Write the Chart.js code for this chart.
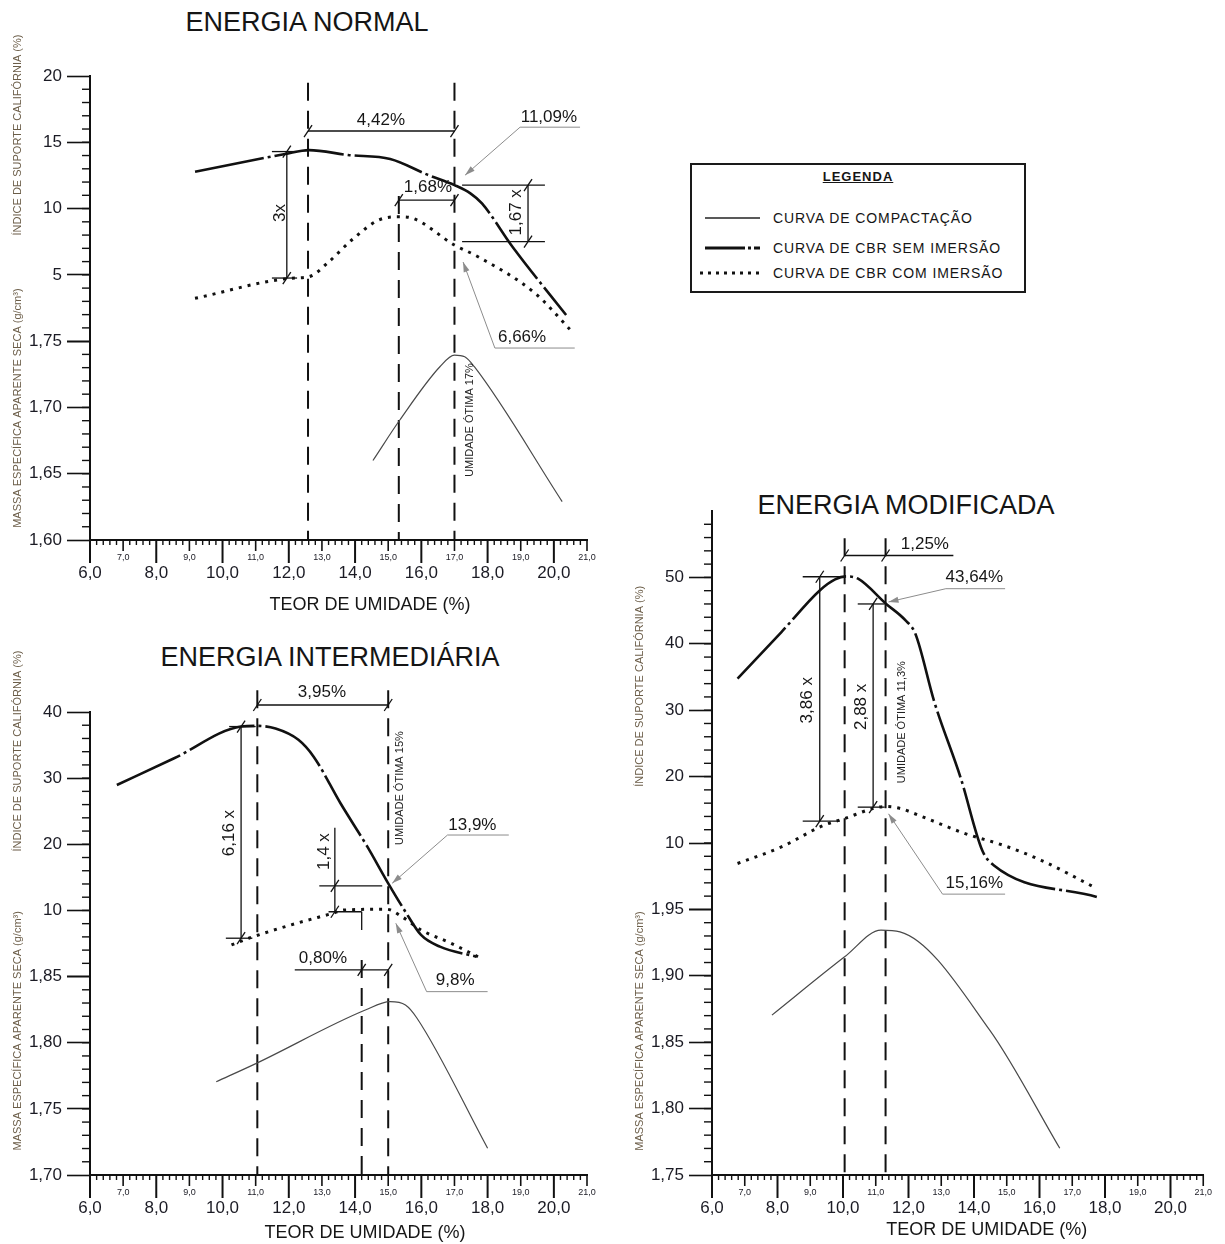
<!DOCTYPE html>
<html lang="pt-BR">
<head>
<meta charset="utf-8">
<title>Curvas de compactação e CBR</title>
<script src="https://cdn.jsdelivr.net/npm/chart.js@4.4.1/dist/chart.umd.min.js"></script>
<style>
  body { margin: 0; background: #fff; }
  #wrapper { position: relative; width: 1225px; height: 1244px; overflow: hidden;
    font-family: "Liberation Sans", Arial, Helvetica, sans-serif; color: #151515; }
  #wrapper canvas { position: absolute; }
  .titulo { position: absolute; font-size: 27px; line-height: 27px; white-space: nowrap; transform: translateX(-50%); }
  #legenda { position: absolute; left: 690px; top: 163px; width: 332px; height: 126px; border: 2px solid #1a1a1a; }
  #legenda .cab { position: absolute; left: 0; right: 0; top: 5px; text-align: center; font-size: 13px; line-height: 14px;
    font-weight: bold; letter-spacing: 1px; text-decoration: underline; }
  #legenda .item { position: absolute; left: 81px; font-size: 14px; line-height: 14px; letter-spacing: 0.9px; white-space: nowrap; }
  #legenda svg { position: absolute; left: 0; top: 0; }
</style>
</head>
<body>
<div id="wrapper">
  <div class="titulo" style="left:307px; top:9px">ENERGIA NORMAL</div>
  <div class="titulo" style="left:330px; top:644px">ENERGIA INTERMEDIÁRIA</div>
  <div class="titulo" style="left:906px; top:492px">ENERGIA MODIFICADA</div>
  <div id="legenda"></div>
  <canvas id="normal" width="612" height="625" style="left:0; top:0"></canvas>
  <canvas id="intermediaria" width="612" height="614" style="left:0; top:630px"></canvas>
  <canvas id="modificada" width="603" height="774" style="left:622px; top:470px"></canvas>
</div>
<script>
const FONTE = '"Liberation Sans", Arial, Helvetica, sans-serif';
const LEGENDA = ["CURVA DE COMPACTAÇÃO", "CURVA DE CBR SEM IMERSÃO", "CURVA DE CBR COM IMERSÃO"];
const TITULO_X = "TEOR DE UMIDADE (%)";
const TITULO_CBR = "ÍNDICE DE SUPORTE CALIFÓRNIA (%)";
const TITULO_DENS = "MASSA ESPECÍFICA APARENTE SECA (g/cm³)";

// ENERGIA NORMAL
const normCompX = [14.54, 15.35, 16.56, 17.0, 17.31, 17.6, 20.25];
const normCompY = [1.660, 1.6905, 1.7307, 1.7395, 1.7382, 1.7307, 1.629];
const normSemX = [9.17, 11.89, 12.61, 13.79, 15.06, 16.21, 17.0, 17.48, 17.83, 18.75, 20.37];
const normSemY = [12.78, 14.11, 14.41, 14.04, 13.74, 12.53, 11.77, 11.15, 10.39, 7.12, 1.97];
const normComX = [9.17, 12.06, 12.61, 13.21, 13.9, 14.71, 15.35, 15.75, 17.0, 17.71, 19.44, 20.48];
const normComY = [3.23, 4.74, 4.86, 5.99, 7.63, 9.13, 9.38, 9.26, 7.25, 6.37, 3.6, 0.9];

// ENERGIA INTERMEDIÁRIA
const interCompX = [9.81, 11.02, 14.31, 15.06, 15.52, 15.87, 18.0];
const interCompY = [1.7705, 1.7844, 1.8247, 1.831, 1.8285, 1.8185, 1.7202];
const interSemX = [6.81, 8.54, 10.56, 11.02, 11.6, 12.29, 12.75, 13.56, 14.37, 15.0, 15.52, 15.99, 16.56, 17.66];
const interSemY = [28.97, 33.0, 37.8, 37.9, 37.5, 35.8, 33.25, 26.2, 19.64, 14.1, 9.8, 6.29, 4.52, 3.01];
const interComX = [10.27, 10.79, 12.06, 13.33, 13.68, 14.95, 15.41, 15.99, 16.9, 17.71];
const interComY = [4.78, 5.79, 7.8, 9.57, 10.07, 10.18, 9.06, 7.05, 5.03, 3.0];

// ENERGIA MODIFICADA
const modCompX = [7.83, 10.05, 11.16, 11.74, 14.48, 16.62];
const modCompY = [1.8704, 1.9143, 1.9344, 1.9331, 1.8591, 1.7701];
const modSemX = [6.78, 8.12, 9.29, 9.76, 10.11, 10.46, 11.31, 11.91, 12.21, 12.79, 13.6, 14.25, 14.6, 17.75];
const modSemY = [34.75, 41.77, 48.04, 49.7, 50.15, 49.8, 46.04, 43.52, 41.52, 31.23, 19.7, 8.91, 6.65, 1.88];
const modComX = [6.78, 8.12, 9.41, 10.05, 10.92, 11.3, 11.75, 12.3, 13.73, 14.89, 16.05, 17.75];
const modComY = [6.91, 9.41, 12.67, 13.68, 15.2, 15.5, 15.2, 14.2, 11.42, 9.66, 7.4, 3.15];

// cotas e chamadas (em unidades dos eixos: umidade / CBR)
const notasNormal = {
  guias: { x: [12.58, 15.32, 17.0], topo: [19.5, 10.95, 19.5] },
  cotasH: [
    { t: "4,42%", y: 15.85, x1: 12.58, x2: 17.0, marcas: [12.58, 17.0], tx: 14.78, ty: 16.68 },
    { t: "1,68%", y: 10.64, x1: 15.32, x2: 17.0, marcas: [15.32, 17.0], tx: 16.2, ty: 11.62 }
  ],
  cotasV: [
    { t: "3x", x: 11.94, y1: 14.3, y2: 4.76, marcas: [14.3, 4.76], ext: [[14.3, 11.49, 12.25], [4.76, 11.49, 12.25]], tx: 11.74, ty: 9.66 },
    { t: "1,67 x", x: 19.22, y1: 11.77, y2: 7.5, marcas: [11.77, 7.5], ext: [[11.77, 17.23, 19.73], [7.5, 17.23, 19.73]], tx: 18.88, ty: 9.72 }
  ],
  chamadas: [
    { t: "11,09%", tx: 19.85, ty: 16.9, pts: [[20.79, 16.14], [18.98, 16.14], [17.32, 12.52]] },
    { t: "6,66%", tx: 19.04, ty: 0.31, pts: [[20.63, -0.52], [18.22, -0.52], [17.26, 5.97]] }
  ],
  verticais: [{ t: "UMIDADE ÓTIMA 17%", x: 17.47, y: -5.95 }],
  linhas: []
};
const notasInter = {
  guias: { x: [11.05, 14.2, 15.0], topo: [43.3, 2.5, 43.3] },
  cotasH: [
    { t: "3,95%", y: 41.06, x1: 11.05, x2: 15.0, marcas: [11.05, 15.0], tx: 13.0, ty: 43.0 },
    { t: "0,80%", y: 1.0, x1: 12.18, x2: 15.0, marcas: [14.2, 15.0], tx: 13.03, ty: 2.8 }
  ],
  cotasV: [
    { t: "6,16 x", x: 10.56, y1: 37.8, y2: 5.8, marcas: [37.8, 5.8], ext: [[37.8, 10.2, 11.0], [5.8, 10.1, 10.9]], tx: 10.21, ty: 21.7 },
    { t: "1,4 x", x: 13.39, y1: 22.5, y2: 9.8, marcas: [13.7, 9.8], ext: [[13.7, 12.92, 14.82], [9.8, 13.2, 14.2]], tx: 13.07, ty: 18.9 }
  ],
  chamadas: [
    { t: "13,9%", tx: 17.54, ty: 22.93, pts: [[18.64, 21.4], [16.79, 21.4], [15.12, 14.1]] },
    { t: "9,8%", tx: 17.02, ty: -0.51, pts: [[18.0, -2.28], [16.16, -2.28], [15.23, 8.06]] }
  ],
  verticais: [{ t: "UMIDADE ÓTIMA 15%", x: 15.35, y: 28.5 }],
  linhas: [[14.2, 9.8, 14.2, 7.05]]
};
const notasMod = {
  guias: { x: [10.05, 11.3], topo: [55.9, 55.9] },
  cotasH: [
    { t: "1,25%", y: 53.3, x1: 10.05, x2: 13.37, marcas: [10.05, 11.3], tx: 12.5, ty: 55.0 }
  ],
  cotasV: [
    { t: "3,86 x", x: 9.29, y1: 50.1, y2: 13.3, marcas: [50.1, 13.3], ext: [[50.1, 8.77, 9.99], [13.3, 8.77, 9.9]], tx: 8.91, ty: 31.5 },
    { t: "2,88 x", x: 10.92, y1: 46.0, y2: 15.4, marcas: [46.0, 15.4], ext: [[46.0, 10.45, 11.27], [15.4, 10.45, 11.27]], tx: 10.57, ty: 30.5 }
  ],
  chamadas: [
    { t: "43,64%", tx: 14.01, ty: 50.0, pts: [[14.95, 48.3], [13.14, 48.3], [11.39, 46.3]] },
    { t: "15,16%", tx: 14.01, ty: 3.9, pts: [[14.95, 2.3], [13.04, 2.3], [11.39, 14.4]] }
  ],
  verticais: [{ t: "UMIDADE ÓTIMA 11,3%", x: 11.79, y: 28.2 }],
  linhas: []
};

const ESTILOS = [
  { cor: "#4a4a4a", largura: 1.2, traco: [] },
  { cor: "#111", largura: 2.6, traco: [70, 4, 3, 4] },
  { cor: "#111", largura: 3, traco: [3, 6] }
];

function pares(xs, ys) {
  return xs.map(function (x, i) { return { x: x, y: ys[i] }; });
}
function fmtX(v) { return v.toFixed(1).replace(".", ","); }

function seg(ctx, x1, y1, x2, y2) {
  ctx.beginPath(); ctx.moveTo(x1, y1); ctx.lineTo(x2, y2); ctx.stroke();
}
function barra(ctx, x, y) {
  seg(ctx, x - 4, y + 6, x + 4, y - 6);
}
function texto(ctx, t, x, y, tam, cor, rot) {
  ctx.save();
  ctx.translate(x, y);
  if (rot) ctx.rotate(-Math.PI / 2);
  ctx.font = tam + "px " + FONTE;
  ctx.fillStyle = cor;
  ctx.textAlign = "center";
  ctx.textBaseline = "middle";
  ctx.fillText(t, 0, 0);
  ctx.restore();
}

function criarNotas(notas, passos, tit) {
  return {
    id: "notas",
    beforeDatasetsDraw(chart) {
      const ctx = chart.ctx, sx = chart.scales.x, sy = chart.scales.y, sd = chart.scales.d;
      const base = sd.getPixelForValue(sd.min);
      ctx.save();
      ctx.strokeStyle = "#111";
      ctx.lineWidth = 2;
      ctx.setLineDash([18, 10]);
      notas.guias.x.forEach(function (gx, i) {
        const px = sx.getPixelForValue(gx);
        seg(ctx, px, sy.getPixelForValue(notas.guias.topo[i]), px, base);
      });
      ctx.restore();
    },
    afterDraw(chart) {
      const ctx = chart.ctx, a = chart.chartArea;
      const sx = chart.scales.x, sy = chart.scales.y;
      const X = function (v) { return sx.getPixelForValue(v); };
      const Y = function (v) { return sy.getPixelForValue(v); };
      ctx.save();

      // traços menores dos eixos
      ctx.strokeStyle = "#111";
      ["y", "d"].forEach(function (id) {
        const s = chart.scales[id];
        const n = Math.round((s.max - s.min) / passos[id]);
        ctx.lineWidth = 1.4;
        for (let i = 1; i < n; i++) {
          const py = s.getPixelForValue(s.min + i * passos[id]);
          seg(ctx, a.left - 8, py, a.left, py);
        }
      });
      const nx = Math.round((sx.max - sx.min) / passos.x);
      for (let i = 0; i <= nx; i++) {
        const v = Math.round((sx.min + i * passos.x) * 100) / 100;
        let comp = 5;
        ctx.lineWidth = 1.4;
        if (Number.isInteger(v)) {
          comp = v % 2 === 0 ? 23 : 11;
          ctx.lineWidth = v % 2 === 0 ? 2 : 1.6;
        }
        const px = sx.getPixelForValue(v);
        seg(ctx, px, a.bottom, px, a.bottom + comp);
      }

      // cotas
      ctx.strokeStyle = "#111";
      ctx.lineWidth = 1.3;
      notas.cotasH.forEach(function (c) {
        seg(ctx, X(c.x1), Y(c.y), X(c.x2), Y(c.y));
        c.marcas.forEach(function (m) { barra(ctx, X(m), Y(c.y)); });
        texto(ctx, c.t, X(c.tx), Y(c.ty), 17, "#161616", false);
      });
      notas.cotasV.forEach(function (c) {
        seg(ctx, X(c.x), Y(c.y1), X(c.x), Y(c.y2));
        c.ext.forEach(function (e) { seg(ctx, X(e[1]), Y(e[0]), X(e[2]), Y(e[0])); });
        c.marcas.forEach(function (m) { barra(ctx, X(c.x), Y(m)); });
        texto(ctx, c.t, X(c.tx), Y(c.ty), 17, "#161616", true);
      });
      notas.linhas.forEach(function (l) { seg(ctx, X(l[0]), Y(l[1]), X(l[2]), Y(l[3])); });

      // chamadas com seta
      ctx.strokeStyle = "#8c8c8c";
      ctx.fillStyle = "#8c8c8c";
      ctx.lineWidth = 1;
      notas.chamadas.forEach(function (c) {
        ctx.beginPath();
        c.pts.forEach(function (p, i) {
          if (i === 0) ctx.moveTo(X(p[0]), Y(p[1]));
          else ctx.lineTo(X(p[0]), Y(p[1]));
        });
        ctx.stroke();
        const p0 = c.pts[c.pts.length - 2], p1 = c.pts[c.pts.length - 1];
        const bx = X(p1[0]), by = Y(p1[1]);
        const ang = Math.atan2(by - Y(p0[1]), bx - X(p0[0]));
        ctx.beginPath();
        ctx.moveTo(bx, by);
        ctx.lineTo(bx - 10 * Math.cos(ang) + 3 * Math.sin(ang), by - 10 * Math.sin(ang) - 3 * Math.cos(ang));
        ctx.lineTo(bx - 10 * Math.cos(ang) - 3 * Math.sin(ang), by - 10 * Math.sin(ang) + 3 * Math.cos(ang));
        ctx.closePath();
        ctx.fill();
        texto(ctx, c.t, X(c.tx), Y(c.ty), 17, "#161616", false);
      });
      notas.verticais.forEach(function (v) { texto(ctx, v.t, X(v.x), Y(v.y), 11, "#222", true); });

      // títulos dos eixos
      texto(ctx, TITULO_X, X(tit.x), a.bottom + tit.dy, 18, "#161616", false);
      texto(ctx, TITULO_CBR, a.left - 72, sy.getPixelForValue(tit.cbr), 11, "#6b5d48", true);
      texto(ctx, TITULO_DENS, a.left - 72, chart.scales.d.getPixelForValue(tit.dens), 11, "#6b5d48", true);
      ctx.restore();
    }
  };
}

function eixoX(altura) {
  return {
    type: "linear", min: 6, max: 21,
    border: { color: "#111", width: 2 },
    grid: { drawOnChartArea: false, drawTicks: false },
    ticks: {
      stepSize: 1, autoSkip: false, maxRotation: 0, padding: 13, color: "#1b1b24",
      font: function (c) {
        if (c.tick && c.tick.value % 2 !== 0) return { family: FONTE, size: 9, lineHeight: "10px" };
        return { family: FONTE, size: 17, lineHeight: 0.78 };
      },
      callback: function (v) { return v % 2 === 0 ? ["", fmtX(v)] : fmtX(v); }
    },
    afterFit: function (s) { s.height = altura; }
  };
}

// weight maior = colocado em cima na pilha da esquerda
function eixoCbr(max, passo, peso, ocultarTopo) {
  return {
    type: "linear", position: "left", stack: "v", stackWeight: peso, weight: 1, min: 0, max: max,
    border: { color: "#111", width: 2 },
    grid: {
      drawOnChartArea: false, tickLength: 23, tickWidth: 1.6,
      tickColor: function (c) { return ocultarTopo && c.tick && c.tick.value === max ? "rgba(0,0,0,0)" : "#111"; }
    },
    ticks: {
      stepSize: passo, padding: 5, color: "#1b1b24", font: { family: FONTE, size: 17 },
      callback: function (v) { return v === 0 || (ocultarTopo && v === max) ? "" : String(v); }
    },
    afterFit: function (s) { s.width = 90; }
  };
}

function eixoDens(min, max, peso) {
  return {
    type: "linear", position: "left", stack: "v", stackWeight: peso, weight: 0, min: min, max: max,
    border: { color: "#111", width: 2 },
    grid: { drawOnChartArea: false, tickLength: 23, tickWidth: 1.6, tickColor: "#111" },
    ticks: {
      stepSize: 0.05, padding: 5, color: "#1b1b24", font: { family: FONTE, size: 17 },
      callback: function (v) { return v.toFixed(2).replace(".", ","); }
    },
    afterFit: function (s) { s.width = 90; }
  };
}

function criarGrafico(id, cfg) {
  const conjuntos = [
    { xs: cfg.compX, ys: cfg.compY, eixo: "d" },
    { xs: cfg.semX, ys: cfg.semY, eixo: "y" },
    { xs: cfg.comX, ys: cfg.comY, eixo: "y" }
  ].map(function (c, i) {
    return {
      label: LEGENDA[i],
      data: pares(c.xs, c.ys),
      yAxisID: c.eixo,
      borderColor: ESTILOS[i].cor,
      borderWidth: ESTILOS[i].largura,
      borderDash: ESTILOS[i].traco,
      pointRadius: 0,
      cubicInterpolationMode: "monotone"
    };
  });
  new Chart(document.getElementById(id), {
    type: "line",
    data: { datasets: conjuntos },
    options: {
      responsive: false,
      animation: false,
      devicePixelRatio: 1,
      layout: { padding: cfg.padding },
      plugins: { legend: { display: false }, tooltip: { enabled: false } },
      scales: {
        x: eixoX(cfg.alturaX),
        y: eixoCbr(cfg.cbrMax, cfg.cbrPasso, cfg.pesoCbr, cfg.ocultarTopo),
        d: eixoDens(cfg.densMin, cfg.densMax, cfg.pesoDens)
      }
    },
    plugins: [criarNotas(cfg.notas, cfg.passos, cfg.titulos)]
  });
}

criarGrafico("normal", {
  compX: normCompX, compY: normCompY, semX: normSemX, semY: normSemY, comX: normComX, comY: normComY,
  padding: { top: 76, right: 25, left: 0, bottom: 0 }, alturaX: 85,
  cbrMax: 20, cbrPasso: 5, pesoCbr: 4, ocultarTopo: false,
  densMin: 1.60, densMax: 1.75, pesoDens: 3,
  passos: { x: 0.2, y: 1, d: 0.01 },
  titulos: { x: 14.45, dy: 65, cbr: 15.55, dens: 1.6995 },
  notas: notasNormal
});

criarGrafico("intermediaria", {
  compX: interCompX, compY: interCompY, semX: interSemX, semY: interSemY, comX: interComX, comY: interComY,
  padding: { top: 82, right: 25, left: 0, bottom: 0 }, alturaX: 69,
  cbrMax: 40, cbrPasso: 10, pesoCbr: 4, ocultarTopo: false,
  densMin: 1.70, densMax: 1.85, pesoDens: 3,
  passos: { x: 0.2, y: 2, d: 0.01 },
  titulos: { x: 14.3, dy: 58, cbr: 34.1, dens: 1.809 },
  notas: notasInter
});

criarGrafico("modificada", {
  compX: modCompX, compY: modCompY, semX: modSemX, semY: modSemY, comX: modComX, comY: modComY,
  padding: { top: 41, right: 17, left: 0, bottom: 0 }, alturaX: 69,
  cbrMax: 60, cbrPasso: 10, pesoCbr: 6, ocultarTopo: true,
  densMin: 1.75, densMax: 1.95, pesoDens: 4,
  passos: { x: 0.2, y: 2, d: 0.01 },
  titulos: { x: 14.39, dy: 55, cbr: 33.6, dens: 1.8584 },
  notas: notasMod
});

// legenda
let leg = document.getElementById("legenda");
let linhasY = [53, 83, 108];
let amostras = [
  '<line x1="13" y1="53" x2="68" y2="53" stroke="#222" stroke-width="1.3"/>',
  '<line x1="13" y1="83" x2="68" y2="83" stroke="#111" stroke-width="3" stroke-dasharray="40 3 3 3"/>',
  '<line x1="8" y1="108" x2="68" y2="108" stroke="#111" stroke-width="3" stroke-dasharray="3 5"/>'
];
let html = '<div class="cab">LEGENDA</div><svg width="80" height="126">' + amostras.join("") + "</svg>";
for (let i = 0; i < LEGENDA.length; i++) {
  html += '<div class="item" style="top:' + (linhasY[i] - 7) + 'px">' + LEGENDA[i] + "</div>";
}
leg.innerHTML = html;
</script>
</body>
</html>
